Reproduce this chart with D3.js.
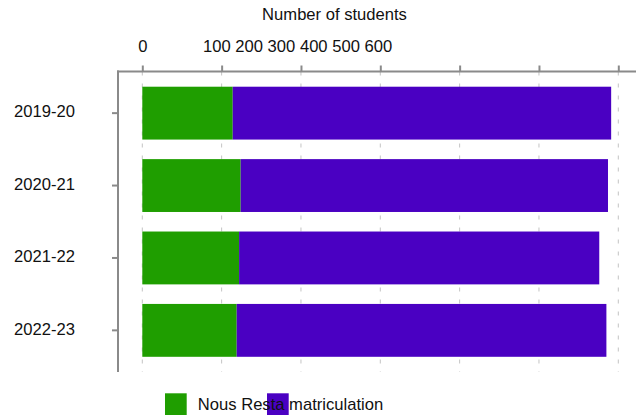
<!DOCTYPE html>
<html>
<head>
<meta charset="utf-8">
<script src="https://cdn.jsdelivr.net/npm/d3@7"></script>
<style>
  html, body { margin: 0; padding: 0; background: #fff; }
  svg { display: block; font-family: "Liberation Sans", Arial, sans-serif; }
</style>
</head>
<body>
<svg id="chart" width="636" height="419"></svg>
<script>
// ---- data ----
const categories = ["2019-20", "2020-21", "2021-22", "2022-23"];
const seriesNames = ["Nous", "Resta matriculation"];
const nousValues = [114, 124, 122, 119];
const restaValues = [477, 463, 454, 466];
const tickValues = [0, 100, 200, 300, 400, 500, 600];
const tickLabels = ["0", "100", "200", "300", "400", "500", "600"];
const axisTitle = "Number of students";
const colors = ["#1f9e00", "#4a00c2"];

// ---- layout ----
const svg = d3.select("#chart");
const W = 636, H = 419;
const axisX = 118, axisTop = 71.5, axisBottom = 372;
const fontSize = 16.6;

const x = d3.scaleLinear().domain([0, 600]).range([142.3, 618.3]);
const y = d3.scaleBand().domain(categories).range([axisTop, axisBottom])
  .paddingInner(0.27).paddingOuter(0.21);

// stacked data
const rows = categories.map((c, i) => ({ cat: c, Nous: nousValues[i], Resta: restaValues[i] }));
const stack = d3.stack().keys(["Nous", "Resta"])(rows);

// grid lines (dashed)
svg.append("g").selectAll("line").data(tickValues).join("line")
  .attr("x1", d => x(d)).attr("x2", d => x(d))
  .attr("y1", axisTop).attr("y2", axisBottom)
  .attr("stroke", "#c4c4c4").attr("stroke-width", 1)
  .attr("stroke-dasharray", "4,8");

// bars
svg.append("g").selectAll("g").data(stack).join("g")
  .attr("fill", (d, i) => colors[i])
  .selectAll("rect").data(d => d).join("rect")
  .attr("x", d => x(d[0]))
  .attr("width", d => x(d[1]) - x(d[0]))
  .attr("y", d => y(d.data.cat))
  .attr("height", y.bandwidth());

// top axis
const xAxis = d3.axisTop(x).tickValues(tickValues).tickSize(6).tickSizeOuter(0)
  .tickFormat((d, i) => tickLabels[i]);
const gx = svg.append("g").attr("transform", `translate(0,${axisTop})`).call(xAxis);
gx.select(".domain").remove();
gx.selectAll(".tick line").attr("stroke", "#8a8a8a").attr("stroke-width", 2);
gx.selectAll(".tick text")
  .attr("font-size", fontSize).attr("fill", "#111")
  .attr("font-family", "Liberation Sans, Arial, sans-serif")
  .attr("y", -20).attr("dy", 0);
// labels after the first flow inline, one after another
{
  const texts = gx.selectAll(".tick text").nodes();
  let cursor = 202.5;
  const spaceW = fontSize * 0.278;
  texts.forEach((t, i) => {
    if (i === 0) return;
    const tickX = x(tickValues[i]);
    d3.select(t).attr("text-anchor", "start").attr("x", cursor - tickX);
    cursor += t.getComputedTextLength() + spaceW;
  });
}
svg.append("line")
  .attr("x1", axisX - 1).attr("x2", W)
  .attr("y1", axisTop).attr("y2", axisTop)
  .attr("stroke", "#8a8a8a").attr("stroke-width", 2);

// left axis
const yAxis = d3.axisLeft(y).tickSize(6).tickSizeOuter(0);
const gy = svg.append("g").attr("transform", `translate(${axisX},0)`).call(yAxis);
gy.select(".domain").remove();
gy.selectAll(".tick line").attr("stroke", "#8a8a8a").attr("stroke-width", 2);
gy.selectAll(".tick text")
  .attr("font-size", fontSize).attr("fill", "#111")
  .attr("font-family", "Liberation Sans, Arial, sans-serif")
  .attr("x", 75 - axisX).attr("dy", "0.25em");
svg.append("line")
  .attr("x1", axisX).attr("x2", axisX)
  .attr("y1", axisTop - 1).attr("y2", axisBottom)
  .attr("stroke", "#8a8a8a").attr("stroke-width", 2);

// axis title
svg.append("text")
  .attr("x", 334.5).attr("y", 20)
  .attr("text-anchor", "middle")
  .attr("font-size", fontSize).attr("fill", "#111")
  .text(axisTitle);

// legend
const lg = svg.append("g");
lg.selectAll("rect").data(seriesNames).join("rect")
  .attr("x", (d, i) => 165 + i * 102)
  .attr("y", 393.3)
  .attr("width", 21.7).attr("height", 21.7)
  .attr("fill", (d, i) => colors[i]);
{
  let cursor = 197.8;
  const spaceW = fontSize * 0.278;
  seriesNames.forEach(name => {
    const t = lg.append("text")
      .attr("x", cursor).attr("y", 409.5)
      .attr("font-size", fontSize).attr("fill", "#111")
      .text(name);
    cursor += t.node().getComputedTextLength() + spaceW;
  });
}
</script>
</body>
</html>
